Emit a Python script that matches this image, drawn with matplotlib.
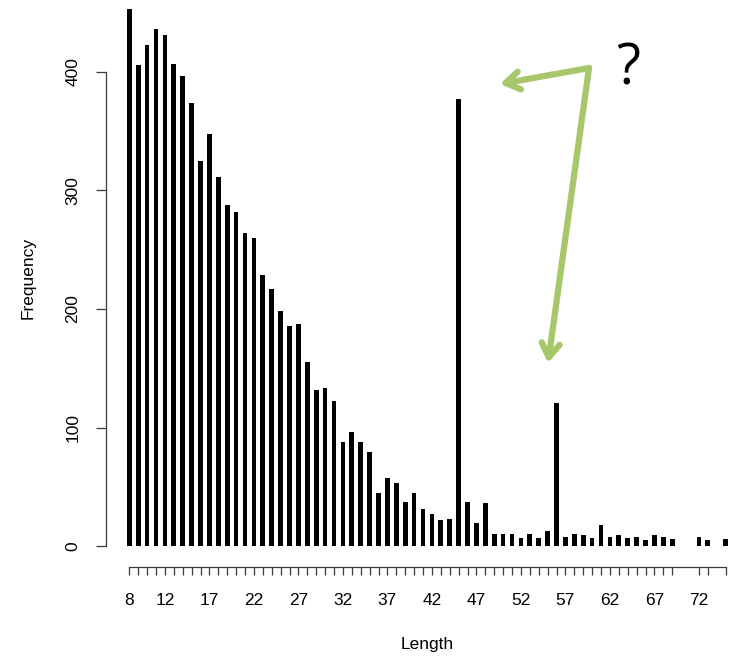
import matplotlib
matplotlib.use("Agg")
import matplotlib.pyplot as plt

# Read-length counts (lengths 70, 71 and 74 do not occur)
lengths = [8, 9, 10, 11, 12, 13, 14, 15, 16, 17, 18, 19, 20, 21, 22, 23, 24, 25,
           26, 27, 28, 29, 30, 31, 32, 33, 34, 35, 36, 37, 38, 39, 40, 41, 42, 43,
           44, 45, 46, 47, 48, 49, 50, 51, 52, 53, 54, 55, 56, 57, 58, 59, 60, 61,
           62, 63, 64, 65, 66, 67, 68, 69, 72, 73, 75]
counts = [453, 406, 423, 436, 431, 407, 397, 374, 325, 348, 311, 288, 282, 264,
          260, 229, 217, 198, 186, 187, 155, 132, 133, 122, 88, 96, 88, 79, 45,
          57, 53, 37, 45, 31, 27, 22, 23, 377, 37, 19, 36, 10, 10, 10, 7, 10, 7,
          13, 121, 8, 10, 9, 7, 18, 8, 9, 7, 8, 5, 9, 8, 6, 8, 5, 6]
labelled = [8, 12, 17, 22, 27, 32, 37, 42, 47, 52, 57, 62, 67, 72]
yticks = [0, 100, 200, 300, 400]

plt.rcParams["font.family"] = ["Liberation Sans", "DejaVu Sans"]

W, H = 731, 656
fig = plt.figure(figsize=(W / 100, H / 100), dpi=100)
ax = fig.add_axes([0, 0, 1, 1])

# linear pixel mapping of the plotting frame
x0_px, dx_px = 129.3, 8.9      # pixel of length 8, pixels per length unit
y0_px, dy_px = 546.0, 1.185    # pixel row of frequency 0, pixels per count
ax.set_xlim(8 - x0_px / dx_px, 8 + (W - x0_px) / dx_px)
ax.set_ylim((y0_px - H) / dy_px, y0_px / dy_px)

ax.bar(lengths, counts, width=0.53, color="black", linewidth=0)

axis_col = "#3a3a3a"
for s in ("top", "right"):
    ax.spines[s].set_visible(False)
ax.spines["left"].set_position(("data", 8 - (x0_px - 106) / dx_px))
ax.spines["left"].set_bounds(0, 400)
ax.spines["bottom"].set_position(("data", -(567 - y0_px) / dy_px))
ax.spines["bottom"].set_bounds(min(lengths), max(lengths))
for s in ("left", "bottom"):
    ax.spines[s].set_color(axis_col)
    ax.spines[s].set_linewidth(0.9)

ax.set_xticks(lengths)
ax.set_xticklabels([str(v) if v in labelled else "" for v in lengths])
ax.set_yticks(yticks)
ax.set_yticklabels([str(v) for v in yticks], rotation=90, va="center")
ax.tick_params(axis="x", length=6, width=0.9, color=axis_col, pad=13,
               labelsize=12.5)
ax.tick_params(axis="y", length=7.5, width=0.9, color=axis_col, pad=11,
               labelsize=12.5)

fig.text(427.5 / W, 1 - 645 / H, "Length", ha="center", va="center", fontsize=12.5)
fig.text(28 / W, 1 - 278 / H, "Frequency", ha="center", va="center",
         rotation=90, fontsize=12.5)

# green call-out arrows pointing at the two spikes
def px(x, y):
    return (x / W, 1 - y / H)

green = "#a6c86b"
vertex = px(589, 68)
for tip in (px(500, 84), px(548, 363)):
    fig.add_artist(matplotlib.patches.FancyArrowPatch(
        vertex, tip, transform=fig.transFigure,
        arrowstyle="->,head_length=10,head_width=6.5", color=green, lw=4.5,
        capstyle="round", joinstyle="round", shrinkA=0, shrinkB=0))
fig.text(628 / W, 1 - 70 / H, "?", ha="center", va="center", fontsize=40,
         family=["Open Sans", "DejaVu Sans"], fontweight="normal")

fig.savefig("out.png", dpi=100)
